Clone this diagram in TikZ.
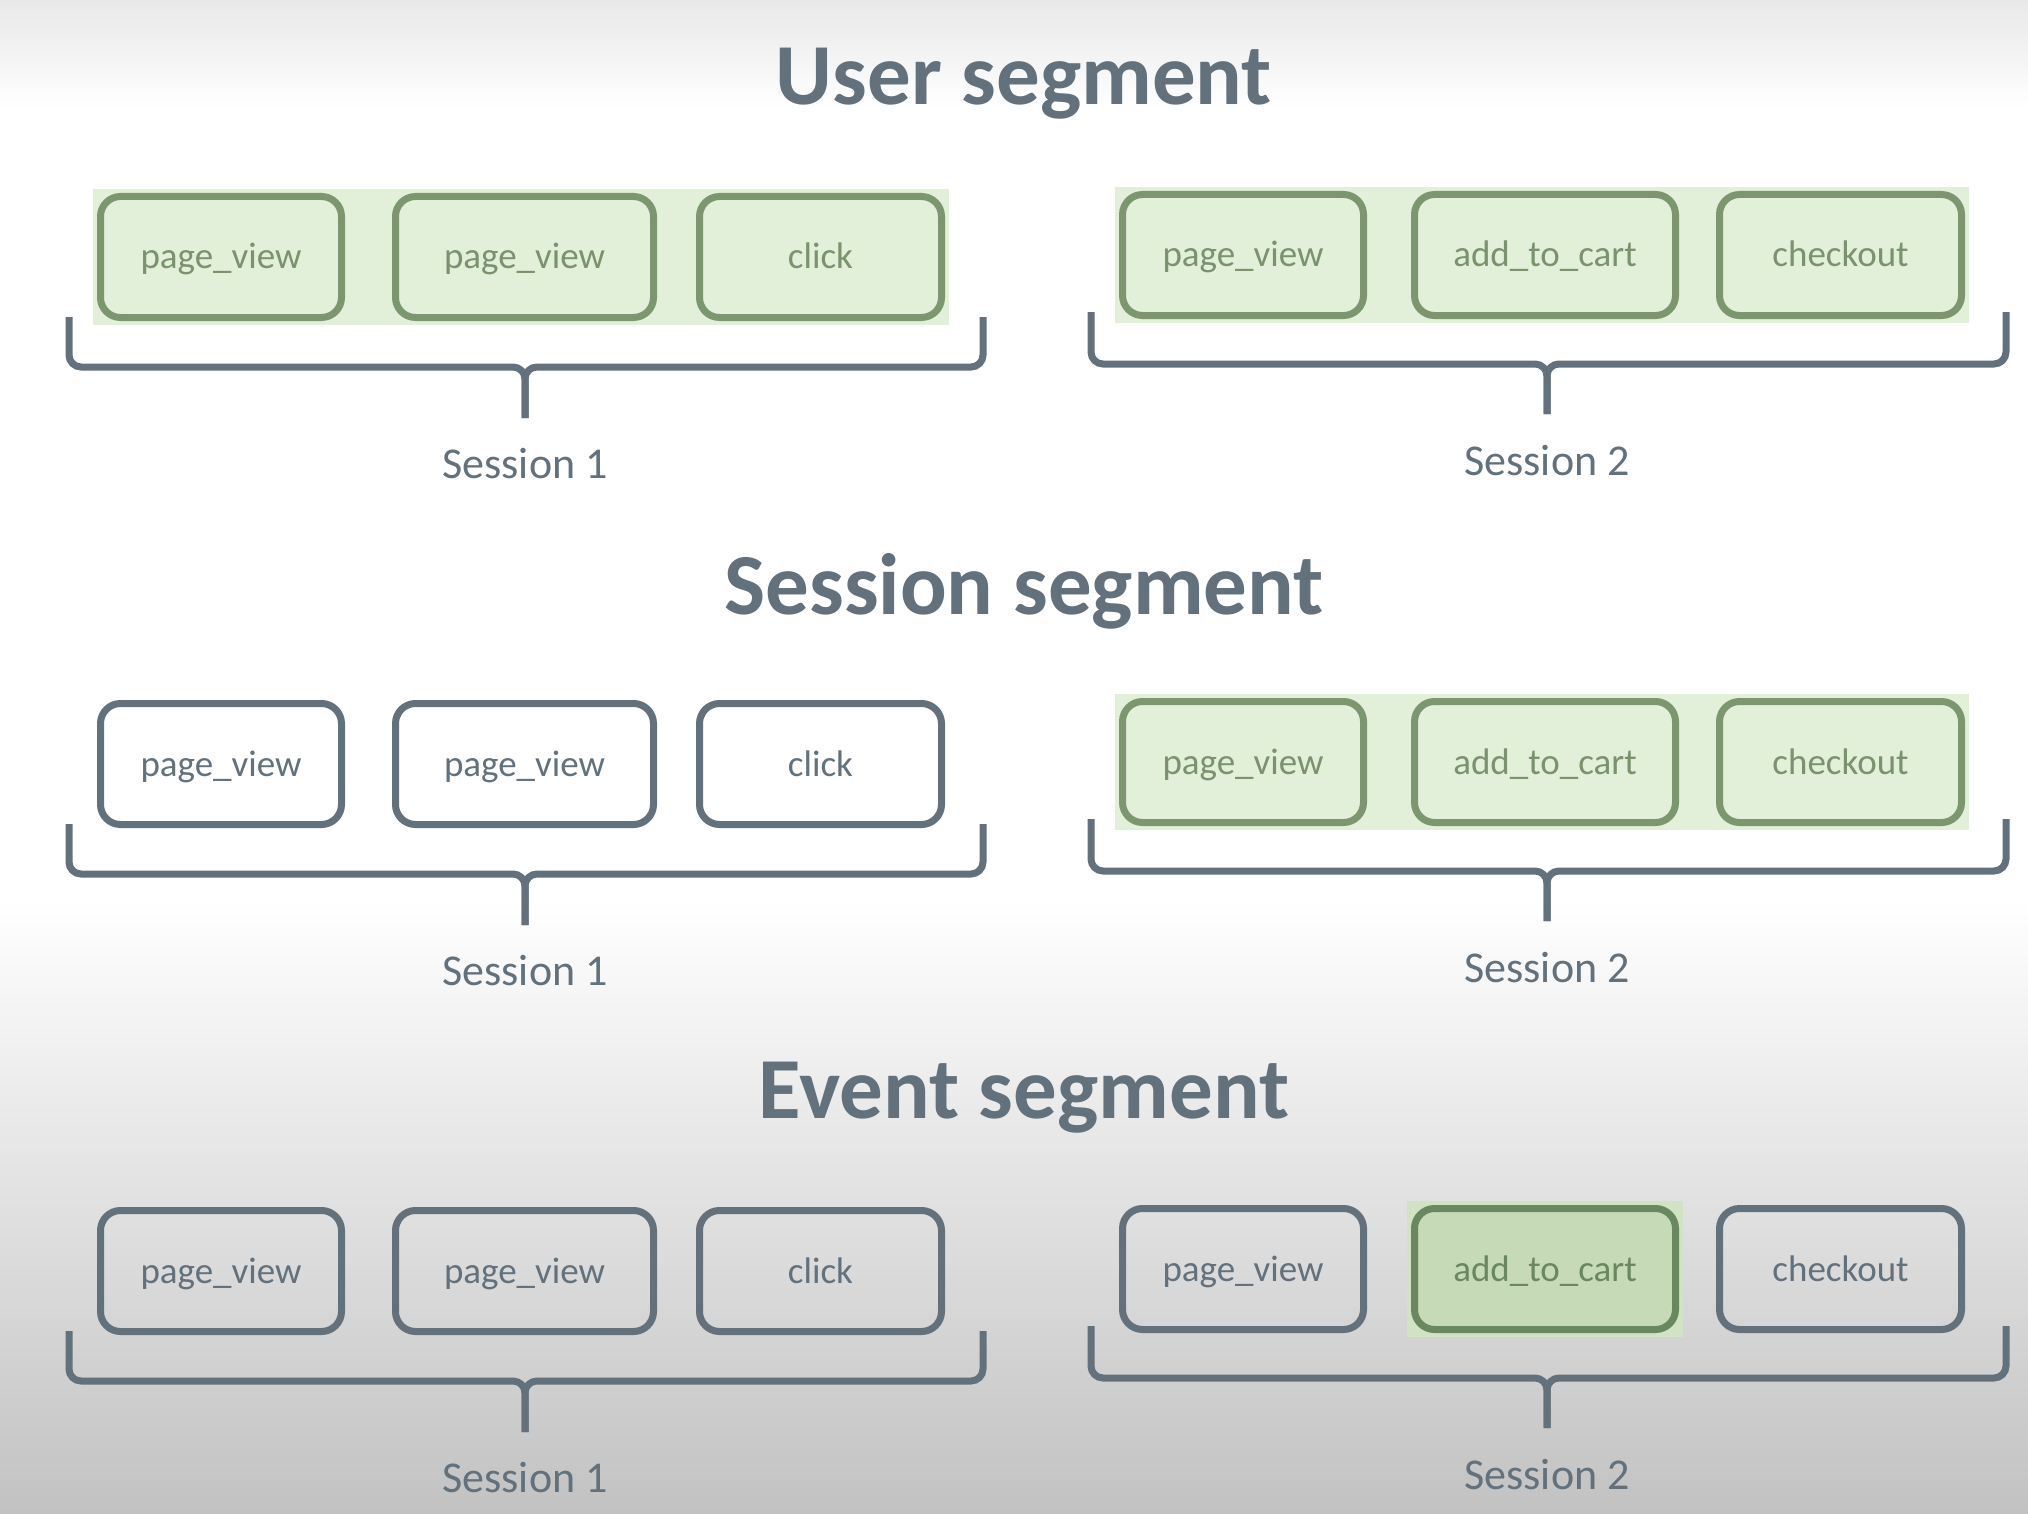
\documentclass[tikz,border=0pt]{standalone}
\usepackage{fontspec}
\setmainfont{Carlito}
\usepackage{tikz}
\usetikzlibrary{fit,backgrounds}
\definecolor{slate}{RGB}{98,113,124}
\definecolor{leaf}{RGB}{226,239,217}
\definecolor{leafline}{RGB}{124,150,112}
\definecolor{leaftext}{RGB}{122,146,110}
\definecolor{hot}{RGB}{199,218,184}
\definecolor{hotline}{RGB}{106,136,96}
\definecolor{hotpad}{RGB}{210,226,196}
\tikzset{
	ev/.style={draw=slate, text=slate, line width=3.5pt, rounded corners=10pt, minimum width=120.5pt, minimum height=60.5pt, text height=15.5pt, text depth=3.5pt, inner sep=0pt, font=\fontsize{18.5}{20}\selectfont},
	on/.style={ev, draw=leafline, fill=leaf, text=leaftext},
	hit/.style={ev, draw=hotline, fill=hot, text=hotline},
	pad/.style={fill=leaf, inner sep=2pt},
	brace/.style={slate, line width=3.5pt, rounded corners=6pt},
	lab/.style={text=slate, font=\fontsize{22}{26}\selectfont},
	head/.style={text=slate, font=\fontsize{43.5}{50}\selectfont\bfseries},
}
\begin{document}
\begin{tikzpicture}[x=0.5pt,y=-0.5pt]
	\useasboundingbox (0,0) rectangle (2028,1514);
	\begin{pgfonlayer}{background}
		\fill[top color=gray!18, bottom color=white] (0,0) rectangle (2028,110);
		\fill[white] (0,110) rectangle (2028,900);
		\fill[top color=white, bottom color=black!24] (0,900) rectangle (2028,1514);
	\end{pgfonlayer}
	% one row per segment
	\foreach \t/\sa/\sb/\sc [count=\r] in {User segment/on/on/on, Session segment/ev/on/on, Event segment/ev/ev/hit}{
		\pgfmathsetmacro\y{257+507*(\r-1)}
		\node[head] (h\r) at (1024,\y-173) {\t};
		\node[\sa] (a\r) at (221,\y) {page\_view};
		\node[\sa, minimum width=129pt] (b\r) at (524.5,\y) {page\_view};
		\node[\sa, minimum width=121pt] (c\r) at (820.5,\y) {click};
		\node[\sb] (d\r) at (1243,\y-2) {page\_view};
		\node[\sc, minimum width=130.5pt] (e\r) at (1545,\y-2) {add\_to\_cart};
		\node[\sb, minimum width=121pt] (f\r) at (1840.5,\y-2) {checkout};
		\coordinate (m\r) at (525,\y+110);
		\coordinate (n\r) at (1547,\y+107);
		\draw[brace] (69,\y+60) |- (m\r) -- +(0,51);
		\draw[brace] (983,\y+60) |- (m\r) -- +(0,51);
		\draw[brace] (1091,\y+55) |- (n\r) -- +(0,50);
		\draw[brace] (2006,\y+55) |- (n\r) -- +(0,50);
		\node[lab] (s\r) at (525,\y+207) {Session 1};
		\node[lab] (q\r) at (1547,\y+204) {Session 2};
	}
	\begin{pgfonlayer}{background}
		\node[pad, fit=(a1)(c1)] (p1) {};
		\node[pad, fit=(d1)(f1)] (p2) {};
		\node[pad, fit=(d2)(f2)] (p3) {};
		\node[pad, fill=hotpad, fit=(e3)] (p4) {};
	\end{pgfonlayer}
\end{tikzpicture}
\end{document}
